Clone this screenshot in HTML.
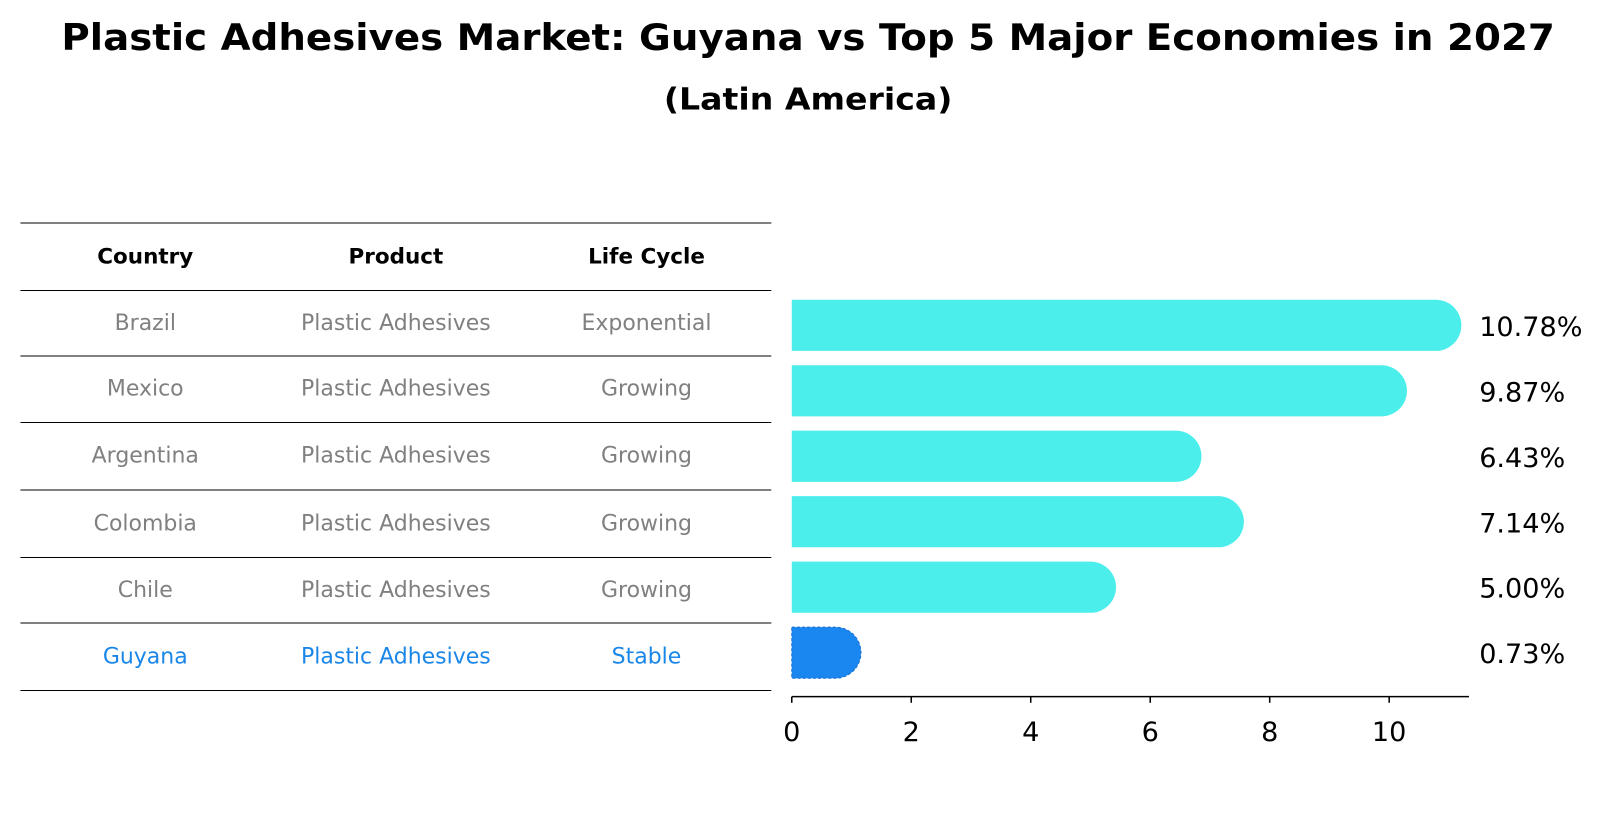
<!DOCTYPE html>
<html><head><meta charset="utf-8"><style>
body{margin:0;background:#fff;font-family:"DejaVu Sans","Liberation Sans",sans-serif}
</style></head><body>
<svg width="1604" height="823" viewBox="0 0 1568 804.5" preserveAspectRatio="none" xmlns="http://www.w3.org/2000/svg" font-family="DejaVu Sans, Liberation Sans, sans-serif">
<text x="790" y="49" text-anchor="middle" font-size="36" font-weight="bold" textLength="1460" lengthAdjust="spacingAndGlyphs">Plastic Adhesives Market: Guyana vs Top 5 Major Economies in 2027</text>
<text x="790" y="107" text-anchor="middle" font-size="30" font-weight="bold" textLength="282" lengthAdjust="spacingAndGlyphs">(Latin America)</text>
<g id="table"></g>
<g id="bars"></g>
</svg>
<script>
const countries=["Brazil","Mexico","Argentina","Colombia","Chile","Guyana"];
const products=["Plastic Adhesives","Plastic Adhesives","Plastic Adhesives","Plastic Adhesives","Plastic Adhesives","Plastic Adhesives"];
const lifeCycles=["Exponential","Growing","Growing","Growing","Growing","Stable"];
const values=[10.78,9.87,6.43,7.14,5.00,0.73];
const labels=["10.78%","9.87%","6.43%","7.14%","5.00%","0.73%"];
const ticks=[0,2,4,6,8,10];
const NS="http://www.w3.org/2000/svg";
function mk(t,a,p){const e=document.createElementNS(NS,t);for(const k in a)e.setAttribute(k,a[k]);p.appendChild(e);return e;}
const tbl=document.getElementById('table'),bars=document.getElementById('bars');
const lineYs=[218,284,348,413,479,545,609,675];
lineYs.forEach(y=>{const l=mk('line',{x1:20,x2:754,y1:y,y2:y,stroke:'#000','stroke-width':1},tbl);

});
const cx=[142,387,632];
["Country","Product","Life Cycle"].forEach((h,i)=>{const t=mk('text',{x:cx[i],y:251,'text-anchor':'middle','font-size':21,'font-weight':'bold','dominant-baseline':'central'},tbl);t.textContent=h;

});
const x=v=>774+v*58.4;
const yc=i=>318+i*64;
const rowC=i=>(lineYs[i+1]+lineYs[i+2])/2;
countries.forEach((c,i)=>{
  const col=c==="Guyana"?"#1a86e8":"#808080";
  [c,products[i],lifeCycles[i]].forEach((s,j)=>{const t=mk('text',{x:cx[j],y:rowC(i),'text-anchor':'middle','font-size':21.5,fill:col,'dominant-baseline':'central'},tbl);t.textContent=s;
  
  });
  const fill=c==="Guyana"?"#1a86f0":"#4ceeec";
  const w=x(values[i])-774,y0=yc(i)-25;
  const p=mk('path',{d:`M774 ${y0} h${w} a25 25 0 0 1 0 50 h${-w} Z`,fill:fill},bars);
  if(c==="Guyana"){p.setAttribute('stroke','#1a70d0');p.setAttribute('stroke-dasharray','3 2');}
  
  
  const t=mk('text',{x:1446,y:yc(i)+2,'font-size':26.5,'dominant-baseline':'central'},bars);t.textContent=labels[i];
  
  
});
const ax=mk('line',{x1:774,x2:1436,y1:681,y2:681,stroke:'#000','stroke-width':1.5},bars);


ticks.forEach(v=>{const l=mk('line',{x1:x(v),x2:x(v),y1:681,y2:687,stroke:'#000','stroke-width':1.5},bars);


const t=mk('text',{x:x(v),y:716,'text-anchor':'middle','font-size':26.5,'dominant-baseline':'central'},bars);t.textContent=v;

});
</script>
</body></html>
